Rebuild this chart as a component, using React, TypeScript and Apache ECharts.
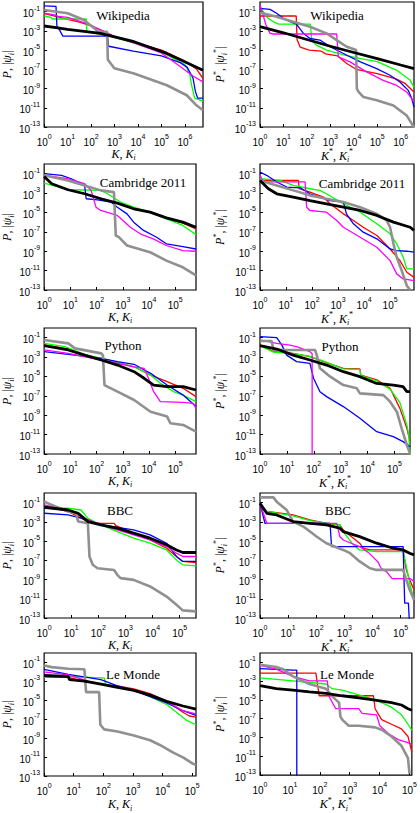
import React, { useEffect, useRef } from "react";
import * as echarts from "echarts";

// ---------- tick values ----------
const xTicks = [1, 10, 100, 1000, 1e4, 1e5, 1e6];
const yTicks = [1e-13, 1e-11, 1e-9, 1e-7, 1e-5, 1e-3, 1e-1];

const titles = ["Wikipedia", "Wikipedia", "Cambridge 2011", "Cambridge 2011", "Python", "Python", "BBC", "BBC", "Le Monde", "Le Monde"];
const xMaxes = [5.9e6, 3.7e6, 6.2e5, 8.3e5, 6.2e5, 3.8e5, 4e5, 3e5, 1.35e5, 1.2e5];

// ---------- Wikipedia, left ----------
const wikiL_black = [[1, 3.2e-3], [3.2, 2.2e-3], [10, 1.45e-3], [250, 5.5e-4], [6800, 7.4e-5], [1.7e5, 4.5e-6], [5.9e6, 8e-8]];
const wikiL_red = [[1, 6.3e-2], [3.2, 3.2e-2], [10, 1.6e-2], [32, 7.9e-3], [100, 3.2e-3], [320, 1e-3], [1000, 2.5e-4], [1e4, 5e-5], [1e5, 1e-5], [1e6, 7e-7], [3.2e6, 1e-7], [5.9e6, 1.1e-8]];
const wikiL_green = [[1, 3.5e-2], [2, 2.5e-2], [2.2, 1.7e-2], [63, 1.7e-2], [66, 7.9e-4], [500, 3.2e-4], [6300, 5.6e-5], [1e5, 6.3e-6], [1e6, 3.2e-7], [1.6e6, 3.2e-8], [1.9e6, 2.5e-9], [2.6e6, 1e-10], [5.9e6, 5e-11]];
const wikiL_blue = [[1, 4e-1], [3.2, 3.5e-1], [3.5, 3.2e-3], [4.5, 1.26e-3], [6.3, 2.8e-4], [500, 2.8e-4], [560, 2.5e-5], [6300, 7.9e-6], [1e5, 2.5e-6], [6.3e5, 5e-7], [1.26e6, 1.6e-7], [2.2e6, 1.26e-8], [2.8e6, 5e-10], [3.5e6, 1e-10], [5.9e6, 1e-10]];
const wikiL_magenta = [[1, 6.8e-2], [2.8, 4.5e-2], [4, 3.2e-2], [10, 2.5e-2], [25, 1.26e-2], [79, 5e-3], [250, 1.26e-3], [1000, 2.5e-4], [1e4, 4e-5], [1e5, 5e-6], [6.3e5, 2e-7], [2.2e6, 2e-8], [5.9e6, 5e-9]];
const wikiL_gray = [[1, 1.5e-1], [10, 6.8e-2], [50, 1.35e-2], [140, 1.8e-3], [200, 8.1e-4], [480, 8.1e-4], [520, 1e-6], [980, 1.26e-7], [6800, 3.7e-8], [1.7e5, 2.2e-9], [1.2e6, 2e-10], [3.1e6, 1.8e-11], [5.9e6, 5.5e-12]];

// ---------- Wikipedia, right ----------
const wikiR_black = [[1, 2.7e-3], [10, 6.3e-4], [100, 1.26e-4], [1000, 2.5e-5], [1e4, 5.6e-6], [1e5, 1.26e-6], [1e6, 2.8e-7], [3.7e6, 1.2e-7]];
const wikiR_red = [[1, 3.5e-2], [35, 3.5e-2], [38, 1.26e-4], [52, 2e-5], [126, 1e-5], [400, 7.9e-6], [630, 4e-6], [2000, 2.5e-6], [5000, 4e-7], [1.26e4, 1e-7], [1e5, 3.5e-8], [6.3e5, 1e-8], [1.6e6, 3.2e-9], [3.7e6, 4.4e-10]];
const wikiR_green = [[1, 3.3e-1], [2, 2.5e-2], [4, 7.9e-3], [6.3, 5.1e-3], [140, 5.1e-3], [160, 1.26e-4], [250, 3.3e-5], [700, 1e-5], [3600, 3.2e-6], [2e4, 1.26e-6], [1e5, 6.3e-7], [6.8e5, 7.9e-8], [2.5e6, 7.9e-9], [3.7e6, 1.26e-9]];
const wikiR_blue = [[1, 2.2e-1], [2.7, 1.7e-1], [5.1, 6.8e-2], [10, 2e-2], [19, 8.9e-3], [36, 5.1e-3], [71, 5.5e-4], [135, 1.6e-4], [360, 1.1e-4], [980, 2.2e-5], [3600, 4.4e-6], [1.9e4, 5.9e-7], [9.5e4, 1.2e-7], [3.5e5, 2.4e-8], [9.3e5, 4.8e-9], [2.1e6, 6.5e-10], [3e6, 8.7e-11], [3.7e6, 1.2e-11]];
const wikiR_magenta = [[1, 5e-1], [1.8, 4.1e-3], [2.7, 5.5e-4], [3.7, 4.7e-4], [1860, 4.7e-4], [2200, 2e-6], [6900, 5.9e-7], [3.5e4, 5.4e-8], [1.8e5, 7.2e-9], [6.8e5, 2.1e-9], [1.8e6, 4.4e-10], [3.7e6, 4e-11]];
const wikiR_gray = [[1, 7.9e-2], [5.1, 3e-2], [26, 8.9e-3], [135, 2.7e-3], [690, 5.5e-4], [1860, 1.1e-4], [5000, 2.2e-5], [1.26e4, 1e-5], [1.35e4, 9.8e-10], [1.6e4, 4.4e-10], [2.6e4, 1.3e-10], [9.5e4, 5.9e-11], [4.9e5, 1.7e-11], [1.8e6, 1.6e-12], [3e6, 2.1e-13], [3.7e6, 1e-13]];

// ---------- Cambridge 2011, left ----------
const cambL_black = [[1, 5.2e-2], [1.95, 9.3e-3], [8.1, 2.2e-3], [35, 8.5e-4], [145, 2.6e-4], [620, 9.3e-5], [2600, 2.4e-5], [1.1e4, 1.07e-5], [4.6e4, 2.8e-6], [1.95e5, 1e-6], [6.2e5, 3e-7]];
const cambL_red = [[1, 4e-2], [1.95, 9e-3], [8.1, 2.2e-3], [35, 9e-4], [145, 3e-4], [620, 9e-5], [2600, 2.4e-5], [1.1e4, 1e-5], [4.6e4, 2.5e-6], [1.95e5, 8e-7], [6.2e5, 2e-7]];
const cambL_green = [[1, 1.07e-2], [9.5, 2.2e-3], [145, 1.9e-3], [260, 8.5e-4], [820, 1.2e-4], [2600, 3.5e-5], [1.1e4, 1.07e-5], [4.6e4, 2.2e-6], [1.95e5, 4.6e-7], [6.2e5, 5.2e-8]];
const cambL_blue = [[1, 1e-1], [4.6, 6.8e-2], [11, 3e-2], [35, 6.2e-3], [40, 2.6e-4], [110, 2e-4], [350, 1.17e-4], [620, 3.5e-5], [1450, 7.2e-6], [2600, 1e-6], [6200, 1.4e-7], [1.95e4, 2.8e-8], [4.6e4, 5.8e-9], [1.95e5, 3e-9], [6.2e5, 1.7e-9]];
const cambL_magenta = [[1, 6.8e-2], [8.1, 3e-2], [35, 9.3e-3], [62, 1.9e-3], [95, 3.5e-5], [145, 1.6e-5], [620, 4.9e-6], [1950, 3e-7], [4600, 6.3e-8], [1.45e4, 1.9e-8], [4.6e4, 3.9e-9], [1.95e5, 1.17e-9], [6.2e5, 1e-9]];
const cambL_gray = [[1, 6.8e-2], [8.1, 2e-2], [35, 6.2e-3], [145, 1.9e-3], [460, 1.26e-3], [540, 4.2e-8], [710, 2.8e-8], [1450, 3.9e-9], [1.1e4, 7.9e-10], [4.6e4, 1.07e-10], [1.95e5, 2.2e-11], [6.2e5, 3.2e-12]];

// ---------- Cambridge 2011, right ----------
const cambR_black = [[1, 2e-2], [2.1, 2.8e-3], [4.4, 8.5e-4], [19, 3.9e-4], [83, 1.7e-4], [360, 7.9e-5], [1600, 3.5e-5], [7100, 1.6e-5], [3.1e4, 4.9e-6], [1.35e5, 1e-6], [5.9e5, 3e-7], [8.3e5, 1.4e-7]];
const cambR_red = [[1, 2e-2], [30, 2e-2], [32, 2.8e-3], [83, 1.26e-3], [275, 3.9e-4], [490, 7.9e-5], [1600, 7.2e-6], [3900, 1.5e-6], [9300, 3e-7], [3.1e4, 4.2e-8], [1e5, 1.7e-9], [2.4e5, 1.07e-10], [4.4e5, 6.8e-12], [8.3e5, 2e-12]];
const cambR_green = [[1, 3e-2], [5.9, 2e-2], [19, 6.2e-3], [83, 2.8e-3], [200, 1.9e-3], [360, 8.5e-4], [1600, 7.9e-5], [7100, 1.07e-5], [3.1e4, 6.8e-7], [1e5, 6.3e-8], [1.8e5, 5.8e-9], [3.2e5, 2.4e-10], [4.4e5, 1.5e-11], [8.3e5, 1.5e-11]];
const cambR_blue = [[1, 1.5e-1], [1.8, 6.8e-2], [4.4, 1.4e-2], [10.7, 4.2e-3], [35, 3.5e-3], [83, 8.5e-4], [490, 1.7e-4], [1600, 1.17e-4], [2100, 7.2e-6], [3900, 6.8e-7], [9300, 9.3e-8], [3.1e4, 1.9e-8], [1e5, 1.7e-9], [1.8e5, 1.17e-9], [4.4e5, 1e-9], [8.3e5, 7.9e-10]];
const cambR_magenta = [[1, 6.8e-2], [1.35, 1.4e-2], [54, 1.4e-2], [62, 3.5e-5], [83, 1.6e-5], [360, 1.07e-5], [890, 1.5e-6], [1600, 3e-7], [7100, 2.8e-8], [3.1e4, 2.6e-9], [1e5, 1.07e-10], [1.8e5, 4.6e-12], [3.2e5, 1.4e-12], [8.3e5, 9.3e-13]];
const cambR_gray = [[1, 2e-2], [4.4, 6.2e-3], [19, 1.9e-3], [83, 5.8e-4], [360, 2.6e-4], [1600, 1.17e-4], [7100, 3.5e-5], [3.1e4, 7.2e-6], [7.4e4, 1.5e-6], [1e5, 3e-7], [1.35e5, 5.8e-9], [1.8e5, 2.4e-10], [2.8e5, 1e-11], [4.4e5, 2.8e-13], [5.9e5, 1e-13]];

// ---------- Python, left ----------
const pyL_black = [[1, 1.5e-2], [8.3, 5.4e-3], [35, 1.6e-3], [150, 5e-4], [630, 1.5e-4], [2700, 3.1e-5], [6500, 6.5e-6], [1.5e4, 1.3e-6], [4.9e4, 8.9e-7], [2e5, 8.9e-7], [6.2e5, 4e-7]];
const pyL_red = [[1, 1.7e-2], [8.3, 6.8e-3], [35, 1.6e-3], [150, 7.4e-4], [2700, 1e-4], [1.15e4, 1.4e-5], [4.9e4, 2.9e-6], [2e5, 6e-7], [6.2e5, 8.3e-8]];
const pyL_green = [[1, 2.6e-2], [6.2, 1.2e-2], [35, 1.9e-3], [150, 7.4e-4], [2700, 1e-4], [1.15e4, 1.4e-5], [2.7e4, 2e-6], [8.7e4, 2.7e-7], [2e5, 1.2e-7], [6.2e5, 2.5e-8]];
const pyL_blue = [[1, 3.6e-3], [8.3, 1.9e-3], [150, 7.4e-4], [630, 3.4e-4], [2700, 1.8e-4], [1.15e4, 2.1e-5], [4.9e4, 1.3e-6], [2e5, 1.2e-7], [6.2e5, 7.8e-9]];
const pyL_magenta = [[1, 5.4e-3], [8.3, 2.4e-3], [150, 5e-4], [2700, 1e-4], [6500, 6.9e-5], [8500, 1.4e-5], [1.5e4, 2.7e-7], [2.7e4, 2.5e-8], [2e5, 2.1e-8], [4.9e5, 1.7e-8], [6.2e5, 5.1e-9]];
const pyL_gray = [[1, 5.8e-2], [8.3, 2.6e-2], [15, 7.9e-3], [150, 2.4e-3], [175, 1.6e-3], [200, 1.3e-6], [260, 8.9e-7], [630, 2.7e-7], [2700, 3.7e-8], [1.15e4, 2.3e-9], [4.9e4, 7.2e-10], [6.5e4, 1.5e-10], [2e5, 1e-10], [6.2e5, 2e-11]];

// ---------- Python, right ----------
const pyR_black = [[1, 1.5e-2], [4.2, 6.8e-3], [17, 1.6e-3], [72, 5e-4], [300, 1.5e-4], [1260, 3.1e-5], [5200, 9.5e-6], [2.2e4, 1.9e-6], [9.1e4, 1.3e-6], [2.1e5, 8.9e-7], [2.9e5, 2.7e-7], [3.8e5, 2.7e-7]];
const pyR_red = [[1, 1.7e-2], [3.2, 3.6e-3], [17, 2.4e-3], [72, 1.1e-3], [230, 3.4e-4], [1260, 6.8e-5], [5200, 6e-5], [5600, 1.4e-5], [2.2e4, 4.4e-6], [6.9e4, 6e-7], [1.6e5, 5.1e-9], [2.9e5, 4.5e-11], [3.8e5, 1.9e-12]];
const pyR_green = [[1, 1.5e-2], [3.2, 3.2e-3], [17, 2.2e-3], [72, 1.2e-3], [230, 3.8e-4], [1260, 6e-5], [5200, 5.5e-5], [5600, 1.2e-5], [2.2e4, 3.5e-6], [6.9e4, 5e-7], [1.6e5, 2e-8], [2.9e5, 1e-10], [3.4e5, 1e-11], [3.8e5, 1e-13]];
const pyR_blue = [[1, 1.26e-1], [4.2, 1e-1], [6.5, 1.7e-2], [9.8, 1.6e-3], [23, 3.4e-4], [72, 2.2e-4], [98, 6.5e-6], [170, 2.7e-7], [300, 8.3e-8], [1260, 7.8e-9], [5200, 4.8e-10], [2.2e4, 2e-11], [9.1e4, 6.2e-12], [2.1e5, 1.9e-12], [3.8e5, 5.8e-13]];
const pyR_magenta = [[1, 5.8e-2], [4.2, 2.6e-2], [13, 1.7e-2], [23, 1.2e-2], [72, 3.6e-3], [87, 2.4e-3], [87, 1e-14]];
const pyR_gray = [[1, 4.6e-2], [2.7, 4.6e-2], [3.2, 5.4e-3], [112, 5.4e-3], [129, 1.6e-3], [170, 6.9e-5], [410, 9.5e-6], [1260, 1.3e-6], [4000, 6e-7], [5200, 1.8e-7], [3.9e4, 1.2e-7], [6.9e4, 2.5e-8], [1.23e5, 2.3e-9], [1.86e5, 4.5e-11], [2.9e5, 8.5e-13], [3.8e5, 1.2e-13]];

// ---------- BBC, left ----------
const bbcL_black = [[1, 3.3e-2], [7.6, 1.7e-2], [18, 7.8e-3], [41, 1.07e-3], [123, 4.8e-4], [500, 2.2e-4], [2000, 6.6e-5], [8100, 2e-5], [3.3e4, 4.1e-6], [7.6e4, 1.2e-6], [1.3e5, 6.5e-7], [4e5, 6.5e-7]];
const bbcL_red = [[1, 4.5e-2], [7.6, 1.2e-2], [41, 1.07e-3], [123, 7e-4], [380, 7e-4], [440, 4e-4], [2000, 6.6e-5], [8100, 1.3e-5], [3.3e4, 1.8e-6], [7.6e4, 2.5e-7], [1.3e5, 7.6e-8], [4e5, 5.9e-8]];
const bbcL_green = [[1, 2.6e-2], [7.6, 2.6e-2], [23, 1.7e-2], [41, 2.3e-3], [123, 4.8e-4], [500, 9.8e-5], [2000, 2e-5], [8100, 6e-6], [3.3e4, 1.2e-6], [7.6e4, 1.1e-7], [1.3e5, 3.4e-8], [4e5, 2.7e-8]];
const bbcL_blue = [[1, 7.8e-3], [7.6, 5.2e-3], [41, 1.6e-3], [123, 4.8e-4], [2000, 1.45e-4], [8100, 4.4e-5], [3.3e4, 6e-6], [7.6e4, 2.5e-7], [1.3e5, 7.6e-8], [4e5, 7.6e-8]];
const bbcL_magenta = [[1, 5.8e-2], [7.6, 1.7e-2], [41, 1.6e-3], [123, 4.8e-4], [500, 1.45e-4], [2000, 4.4e-5], [8100, 1.3e-5], [3.3e4, 2.7e-6], [7.6e4, 5.5e-7], [1.3e5, 2.5e-7], [4e5, 2.5e-7]];
const bbcL_gray = [[1, 1.26e-1], [1.9, 5.8e-2], [7.6, 1.2e-2], [15, 7.8e-3], [18, 1.07e-3], [41, 7.1e-4], [47, 2.5e-7], [62, 3.4e-8], [93, 1.5e-8], [380, 1e-8], [500, 3.1e-9], [660, 1.4e-9], [2000, 9.3e-10], [8100, 1.9e-10], [3.3e4, 1.7e-11], [7.6e4, 2.4e-12], [1.3e5, 6.2e-13], [4e5, 4.9e-13]];

// ---------- BBC, right ----------
const bbcR_black = [[1, 8.5e-2], [1.74, 7.8e-3], [3.9, 5.2e-3], [15, 1.07e-3], [60, 7.1e-4], [230, 4.8e-4], [690, 2.2e-4], [910, 9.8e-5], [3500, 2.9e-5], [1.4e4, 6e-6], [5.5e4, 1.8e-6], [1.23e5, 1.2e-6], [2.1e5, 5.5e-7], [3e5, 3.7e-7]];
const bbcR_red = [[1, 8.5e-2], [1.74, 1.2e-2], [3.9, 9.1e-3], [15, 5.2e-3], [60, 1.6e-3], [230, 7.1e-4], [690, 4.8e-4], [910, 1.45e-4], [2100, 2e-5], [3500, 6e-6], [4700, 1.8e-6], [8100, 1.2e-6], [1.23e5, 1.2e-6], [1.6e5, 1e-8], [2.1e5, 9.3e-10], [3e5, 8.5e-11]];
const bbcR_green = [[1, 8.5e-2], [1.74, 1.2e-2], [15, 4.2e-3], [60, 1.35e-3], [690, 4.8e-4], [910, 9.8e-5], [2100, 4.1e-6], [3500, 1.2e-6], [1.4e4, 8.1e-7], [1.23e5, 8.1e-7], [1.6e5, 2.3e-8], [2.1e5, 4.3e-10], [3e5, 7.9e-12]];
const bbcR_blue = [[1, 8.5e-2], [1.5, 7.1e-4], [310, 7.1e-4], [350, 2.7e-6], [1.23e5, 2.7e-6], [1.4e5, 3.5e-12], [1.9e5, 3.5e-12], [2.1e5, 1e-14]];
const bbcR_magenta = [[1, 8.5e-2], [1.74, 7.1e-4], [540, 7.1e-4], [690, 3e-5], [910, 1.3e-5], [3500, 2.7e-6], [7900, 5e-7], [1.6e4, 6.3e-8], [2e4, 1.6e-8], [3.2e4, 6.3e-9], [5e4, 1.26e-9], [2.2e5, 1.26e-9], [3e5, 6.3e-10]];
const bbcR_gray = [[1, 3.5e-1], [3, 3.5e-1], [3.9, 1.26e-1], [8.9, 1.7e-2], [15, 1.07e-3], [35, 3.2e-4], [60, 9.8e-5], [102, 3e-5], [230, 6e-6], [910, 1.2e-6], [1600, 5.5e-7], [3500, 7.6e-8], [8100, 1.5e-8], [1.4e4, 1e-8], [1.23e5, 1e-8], [1.6e5, 9.3e-10], [2.1e5, 8.5e-11], [3e5, 7.9e-12]];

// ---------- Le Monde, left ----------
const lmL_black = [[1, 4.2e-3], [6.5, 3.3e-3], [7.2, 1.55e-3], [23, 1.07e-3], [83, 5e-4], [300, 2.3e-4], [1070, 1.1e-4], [3800, 3.5e-5], [1.38e4, 7.8e-6], [4.9e4, 2.5e-6], [1.35e5, 1.2e-6]];
const lmL_red = [[1, 2.6e-3], [6.5, 2.6e-3], [23, 1.07e-3], [83, 5e-4], [300, 3.4e-4], [1070, 1.6e-4], [3800, 5.1e-5], [1.38e4, 7.8e-6], [4.9e4, 5.5e-7], [8.1e4, 2.2e-7], [1.35e5, 1.7e-7]];
const lmL_green = [[1, 2.6e-3], [6.5, 3.3e-3], [83, 2.3e-3], [107, 2.3e-3], [120, 5e-4], [300, 2.3e-4], [1070, 1.1e-4], [3800, 2.4e-5], [1.38e4, 3.6e-6], [2.95e4, 5.5e-7], [6.3e4, 8.1e-8], [1.35e5, 2.6e-8]];
const lmL_blue = [[1, 1.9e-2], [6.5, 5.6e-3], [83, 1.55e-3], [300, 3.4e-4], [1070, 1.1e-4], [3800, 2.4e-5], [1.38e4, 5.2e-6], [4.9e4, 7.9e-7], [1.35e5, 2.6e-7]];
const lmL_magenta = [[1, 1e-2], [6.5, 4.8e-3], [30, 1.07e-3], [83, 5e-4], [300, 2.3e-4], [1070, 1.1e-4], [3800, 3.5e-5], [1.38e4, 7.8e-6], [4.9e4, 7.9e-7], [1.35e5, 3.7e-7]];
const lmL_gray = [[1, 4.7e-2], [1.8, 3.2e-2], [6.5, 2.2e-2], [23, 1.9e-2], [26, 7.4e-5], [72, 7.4e-5], [79, 2.6e-8], [107, 8.5e-9], [300, 5e-9], [1070, 1.9e-9], [3800, 6e-10], [8100, 1.9e-10], [2.3e4, 2.9e-11], [4.9e4, 9.3e-12], [1.05e5, 2e-12], [1.35e5, 1.4e-12]];

// ---------- Le Monde, right ----------
const lmR_black = [[1, 3.4e-4], [3.5, 1.6e-4], [12.6, 1.1e-4], [45, 7.4e-5], [160, 5.1e-5], [560, 2.8e-5], [2000, 1.66e-5], [7100, 9.8e-6], [2.5e4, 5.2e-6], [5.4e4, 2.9e-6], [8.9e4, 1.17e-6], [1.2e5, 7.9e-7]];
const lmR_red = [[1, 7.1e-3], [74, 7.1e-3], [95, 2.8e-5], [6200, 2.8e-5], [7100, 1.17e-6], [1.17e4, 8.1e-8], [2.5e4, 2.6e-8], [5.4e4, 8.5e-9], [8.9e4, 1.3e-9], [1.2e5, 2.9e-11]];
const lmR_green = [[1, 2.3e-3], [12.6, 1.07e-3], [160, 5e-4], [260, 1.6e-4], [560, 1.1e-4], [2000, 3.5e-5], [7100, 1.1e-5], [2.5e4, 1.7e-6], [5.4e4, 2.6e-7], [8.9e4, 2.6e-8], [1.2e5, 5.8e-9]];
const lmR_blue = [[1, 2.2e-2], [12.6, 1.5e-2], [17, 1.5e-2], [17, 1e-14]];
const lmR_magenta = [[1, 4.7e-2], [3.5, 1.9e-2], [12.6, 3.3e-3], [45, 1.07e-3], [178, 1.07e-3], [204, 2.4e-5], [340, 1.17e-6], [2000, 1.17e-6], [2600, 3.7e-7], [7900, 2.6e-7], [1.02e4, 1.8e-8], [1.95e4, 2.7e-9], [4.2e4, 6e-10], [8.9e4, 2.8e-10], [1.2e5, 1.9e-10]];
const lmR_gray = [[1, 5.5e-2], [3.5, 3.2e-2], [5.9, 1.9e-2], [12.6, 3.3e-3], [45, 5e-4], [160, 1.6e-4], [260, 2.4e-5], [440, 5.2e-6], [490, 1.7e-7], [560, 8.1e-8], [930, 1.8e-8], [2000, 1.8e-8], [7100, 1.2e-8], [1.17e4, 6.8e-9], [2.5e4, 1.3e-9], [5.4e4, 1.3e-10], [8.9e4, 6.3e-12], [1e5, 1.4e-13]];

// ---------- panels ----------
const panelLines: Record<string, number[][]>[] = [
  { red: wikiL_red, green: wikiL_green, blue: wikiL_blue, magenta: wikiL_magenta, gray: wikiL_gray, black: wikiL_black },
  { red: wikiR_red, green: wikiR_green, blue: wikiR_blue, magenta: wikiR_magenta, gray: wikiR_gray, black: wikiR_black },
  { red: cambL_red, green: cambL_green, blue: cambL_blue, magenta: cambL_magenta, gray: cambL_gray, black: cambL_black },
  { red: cambR_red, green: cambR_green, blue: cambR_blue, magenta: cambR_magenta, gray: cambR_gray, black: cambR_black },
  { red: pyL_red, green: pyL_green, blue: pyL_blue, magenta: pyL_magenta, gray: pyL_gray, black: pyL_black },
  { red: pyR_red, green: pyR_green, blue: pyR_blue, magenta: pyR_magenta, gray: pyR_gray, black: pyR_black },
  { red: bbcL_red, green: bbcL_green, blue: bbcL_blue, magenta: bbcL_magenta, gray: bbcL_gray, black: bbcL_black },
  { red: bbcR_red, green: bbcR_green, blue: bbcR_blue, magenta: bbcR_magenta, gray: bbcR_gray, black: bbcR_black },
  { red: lmL_red, green: lmL_green, blue: lmL_blue, magenta: lmL_magenta, gray: lmL_gray, black: lmL_black },
  { red: lmR_red, green: lmR_green, blue: lmR_blue, magenta: lmR_magenta, gray: lmR_gray, black: lmR_black },
];

// ---------- layout & style ----------
const ORDER = ["red", "green", "blue", "magenta", "gray", "black"];
const COLORS: Record<string, string> = { red: "#ff0000", green: "#00ff00", blue: "#0000ff", magenta: "#ff00ff", gray: "#909090", black: "#000000" };
const WIDTHS: Record<string, number> = { red: 1.3, green: 1.3, blue: 1.3, magenta: 1.3, gray: 2.6, black: 2.8 };
const ROW_TOP = [2, 164, 328, 493, 653];
const ROW_H = [125, 126, 126, 125, 131];
const COL_LEFT = [42, 260];
const WIDTH_L = [161, 154, 154, 154, 154];
const WIDTH_R = [154, 154, 150, 154, 154];
const TITLE_POS = [[123, 15], [337, 15], [143, 182], [362, 183], [123, 345], [340, 346], [120, 510], [338, 510], [133, 674], [347, 674]];

const tickRich = {
  b: { fontFamily: "Liberation Sans", fontSize: 10, lineHeight: 14, verticalAlign: "bottom", color: "#000" },
  s: { fontFamily: "Liberation Sans", fontSize: 7, lineHeight: 7, verticalAlign: "top", color: "#000" },
};
const nameRich = {
  it: { fontFamily: "Liberation Serif", fontStyle: "italic", fontSize: 12, lineHeight: 16, verticalAlign: "middle", color: "#000" },
  r: { fontFamily: "Liberation Serif", fontSize: 12, lineHeight: 16, verticalAlign: "middle", color: "#000" },
  sub: { fontFamily: "Liberation Serif", fontStyle: "italic", fontSize: 8, lineHeight: 8, verticalAlign: "bottom", color: "#000" },
  sup: { fontFamily: "Liberation Serif", fontSize: 8, lineHeight: 8, verticalAlign: "top", color: "#000" },
};
const powLabel = (v: number) => {
  const e = Math.round(Math.log10(v));
  return `{b|10}{s|${e}}`;
};

function buildOption() {
  const grid: any[] = [];
  const xAxis: any[] = [];
  const yAxis: any[] = [];
  const series: any[] = [];
  const graphic: any[] = [];
  panelLines.forEach((lines, i) => {
    const row = Math.floor(i / 2);
    const col = i % 2;
    grid.push({
      left: COL_LEFT[col], top: ROW_TOP[row], width: col ? WIDTH_R[row] : WIDTH_L[row], height: ROW_H[row],
      show: true, borderColor: "#000", borderWidth: 1.2, backgroundColor: "transparent",
    });
    xAxis.push({
      type: "log", logBase: 10, gridIndex: i, min: 1, max: xMaxes[i],
      axisLine: { show: false },
      axisTick: { show: true, inside: true, length: 3, customValues: xTicks, lineStyle: { color: "#000" } },
      minorTick: { show: false }, splitLine: { show: false },
      axisLabel: { customValues: xTicks, formatter: powLabel, rich: tickRich, margin: 6, showMinLabel: true, showMaxLabel: true },
      name: col ? "{it|K}{sup|*}{r|, }{it|K}{sub|i}{sup|*}" : "{it|K}{r|, }{it|K}{sub|i}",
      nameLocation: "middle", nameGap: row === 4 ? 20 : 18, nameTextStyle: { rich: nameRich },
    });
    yAxis.push({
      type: "log", logBase: 10, gridIndex: i, min: 1e-13, max: 1,
      axisLine: { show: false },
      axisTick: { show: true, inside: true, length: 3, customValues: yTicks, lineStyle: { color: "#000" } },
      minorTick: { show: false }, splitLine: { show: false },
      axisLabel: { customValues: yTicks, formatter: powLabel, rich: tickRich, margin: 4, showMinLabel: true, showMaxLabel: true },
      name: col ? "{it|P}{sup|*}{r|, |}{it|ψ}{sub|i}{sup|*}{r||}" : "{it|P}{r|, |}{it|ψ}{sub|i}{r||}",
      nameLocation: "middle", nameRotate: 90, nameGap: col ? 32 : 26, nameTextStyle: { rich: nameRich },
    });
    ORDER.forEach((c) => {
      series.push({
        type: "line", xAxisIndex: i, yAxisIndex: i, data: lines[c], showSymbol: false, symbol: "none",
        silent: true, clip: true, lineStyle: { color: COLORS[c], width: WIDTHS[c] }, z: c === "black" ? 4 : c === "gray" ? 3 : 2,
      });
    });
    graphic.push({
      type: "text", x: TITLE_POS[i][0], y: TITLE_POS[i][1], z: 100,
      style: {
        text: titles[i], fontSize: 13, fontFamily: "Liberation Serif", fontWeight: "normal", fill: "#000",
        align: "center", verticalAlign: "middle", textAlign: "center", textVerticalAlign: "middle",
      },
    });
  });
  return { animation: false, backgroundColor: "#ffffff", textStyle: { fontFamily: "Liberation Sans" }, grid, xAxis, yAxis, series, graphic };
}

export default function App() {
  const ref = useRef<HTMLDivElement>(null);
  useEffect(() => {
    if (!ref.current) return;
    const chart = echarts.init(ref.current, undefined, { renderer: "svg" });
    chart.setOption(buildOption() as any);
    return () => chart.dispose();
  }, []);
  return <div ref={ref} style={{ position: "fixed", left: 0, top: 0, width: 420, height: 813 }} />;
}
